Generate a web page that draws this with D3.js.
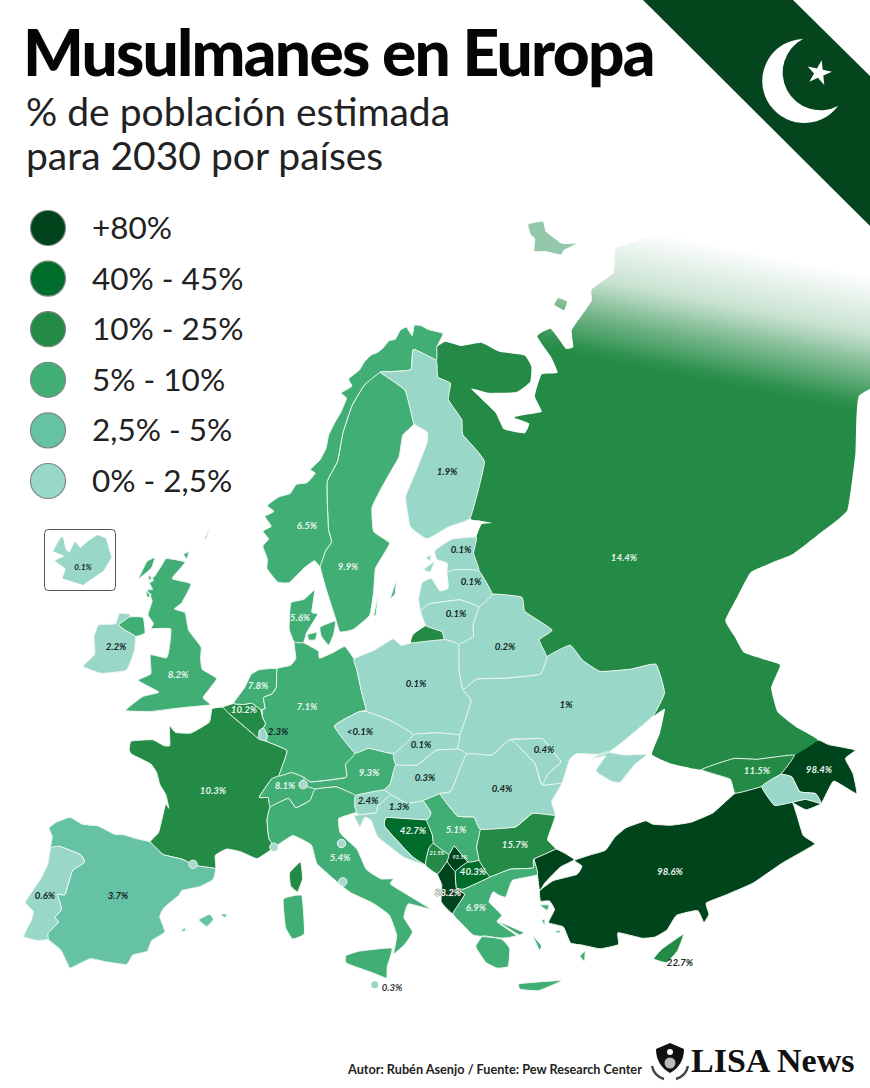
<!DOCTYPE html>
<html>
<head>
<meta charset="utf-8">
<script src="https://cdn.jsdelivr.net/npm/d3@7"></script>
<style>
  html, body { margin: 0; padding: 0; background: #fff; overflow: hidden; }
  svg { display: block; font-family: Lato, sans-serif; }
</style>
</head>
<body>
<svg id="map" width="870" height="1088"></svg>
<script>
// share of muslim population
var countries = ["Turkey","Azerbaijan","Albania","Kosovo","Bosnia","N. Macedonia","Cyprus","Montenegro","Bulgaria","Russia","Georgia","France","Belgium","Sweden","UK","Netherlands","Austria","Switzerland","Germany","Greece","Norway","Denmark","Italy","Serbia","Spain","Slovenia","Luxembourg","Ireland","Finland","Croatia","Portugal","Ukraine","Hungary","Moldova","Romania","Belarus","Estonia","Latvia","Lithuania","Poland","Slovakia","Czechia","Armenia","Iceland"];
var shares = [98.6,98.4,88.2,93.5,42.7,40.3,22.7,21.5,15.7,14.4,11.5,10.3,10.2,9.9,8.2,7.8,9.3,8.1,7.1,6.9,6.5,5.6,5.4,5.1,3.7,2.4,2.3,2.2,1.9,1.3,0.6,1,0.3,0.4,0.4,0.2,0.1,0.1,0.1,0.1,0.1,0.05,0.1,0.1];
var shareLabels = ["98.6%","98.4%","88.2%","93.5%","42.7%","40.3%","22.7%","21.5%","15.7%","14.4%","11.5%","10.3%","10.2%","9.9%","8.2%","7.8%","9.3%","8.1%","7.1%","6.9%","6.5%","5.6%","5.4%","5.1%","3.7%","2.4%","2.3%","2.2%","1.9%","1.3%","0.6%","1%","0.3%","0.4%","0.4%","0.2%","0.1%","0.1%","0.1%","0.1%","0.1%","<0.1%","",""];

var legendLabels = ["+80%","40% - 45%","10% - 25%","5% - 10%","2,5% - 5%","0% - 2,5%"];
var legendColors = ["#00441b","#006d2c","#238b45","#41ae76","#66c2a4","#99d8c9"];
var classBreaks = [2.5,5,10,30,60];

// microstates drawn as dots: Andorra, Monaco, Liechtenstein, San Marino, Vatican
var dotPlaces = [[1.55,42.5],[7.4,43.75],[9.55,47.15],[12.45,43.95],[12.45,41.9]];

// outlines in lon/lat
var PORTUGAL = [[[-8.8,41.9],[-8.2,42.1],[-6.6,41.95],[-6.2,41.6],[-6.9,41.0],[-7.0,39.7],[-7.5,39.6],[-7.0,38.9],[-7.3,38.4],[-7.0,38.2],[-7.5,37.5],[-7.4,37.2],[-8.0,37.0],[-9.0,37.0],[-8.8,37.9],[-8.8,38.4],[-9.5,38.75],[-9.3,39.3],[-8.9,40.2],[-8.7,41.0]]];
var SPAIN = [[[-8.8,41.9],[-8.9,42.5],[-9.3,42.9],[-8.9,43.3],[-8.0,43.75],[-7.0,43.55],[-5.8,43.65],[-4.5,43.4],[-3.8,43.48],[-2.9,43.4],[-1.8,43.35],[-0.7,42.8],[0.7,42.7],[1.7,42.45],[3.2,42.4],[3.1,41.8],[2.2,41.35],[1.0,41.05],[0.8,40.75],[-0.1,40.0],[-0.3,39.5],[0.2,38.75],[-0.6,38.2],[-0.8,37.6],[-1.7,37.3],[-2.0,36.75],[-3.4,36.7],[-4.4,36.7],[-5.3,36.15],[-5.6,36.0],[-6.4,36.8],[-7.4,37.2],[-7.5,37.5],[-7.0,38.2],[-7.3,38.4],[-7.0,38.9],[-7.5,39.6],[-7.0,39.7],[-6.9,41.0],[-6.2,41.6],[-6.6,41.95],[-8.2,42.1]],[[2.4,39.6],[3.1,39.95],[3.4,39.7],[3.0,39.3]],[[3.85,40.0],[4.3,40.05],[4.2,39.85]],[[1.25,38.9],[1.5,39.1],[1.6,38.95]]];
var FRANCE = [[[-1.8,43.35],[-1.3,43.9],[-1.2,44.6],[-1.1,45.5],[-0.8,45.3],[-1.2,46.0],[-1.8,46.5],[-2.2,47.1],[-2.8,47.5],[-4.4,47.8],[-4.7,48.0],[-4.7,48.5],[-3.0,48.8],[-2.0,48.6],[-1.5,48.65],[-1.8,49.7],[-1.2,49.4],[0.1,49.5],[1.5,50.2],[1.6,50.95],[2.55,51.1],[3.2,50.75],[4.2,50.3],[4.85,50.0],[5.8,49.55],[6.4,49.45],[8.2,48.97],[7.6,47.6],[7.0,47.4],[6.1,46.4],[6.8,46.4],[7.0,45.9],[6.8,45.2],[7.0,44.2],[7.5,43.8],[6.2,43.1],[5.0,43.4],[3.9,43.5],[3.1,43.1],[3.2,42.4],[1.7,42.45],[0.7,42.7],[-0.7,42.8]],[[9.4,43.0],[9.55,42.1],[9.2,41.4],[8.7,41.7],[8.6,42.4]]];
var BELGIUM = [[[2.55,51.1],[3.4,51.35],[4.3,51.35],[5.0,51.45],[5.8,51.15],[6.0,50.75],[6.3,50.4],[6.15,50.15],[5.8,50.0],[5.8,49.55],[4.85,50.0],[4.2,50.3],[3.2,50.75]]];
var NETHERLANDS = [[[3.4,51.35],[3.9,51.9],[4.3,52.3],[4.75,53.0],[5.5,53.3],[7.1,53.4],[7.1,52.4],[6.7,52.0],[6.0,51.8],[6.2,51.2],[5.8,51.15],[5.0,51.45],[4.3,51.35]]];
var LUXEMBOURG = [[[5.8,50.0],[6.15,50.15],[6.5,49.75],[6.4,49.45],[5.8,49.55]]];
var GERMANY = [[[7.1,53.4],[8.3,53.6],[8.8,54.0],[8.6,54.9],[9.5,54.85],[10.9,54.4],[11.0,54.0],[12.3,54.3],[13.4,54.6],[14.2,53.9],[14.4,53.3],[14.7,52.1],[15.0,51.1],[14.3,51.0],[12.2,50.3],[13.8,48.8],[13.0,48.2],[13.0,47.5],[10.2,47.3],[9.6,47.55],[8.6,47.8],[7.6,47.6],[8.2,48.97],[6.4,49.45],[6.5,49.75],[6.15,50.15],[6.3,50.4],[6.0,50.75],[5.95,51.15],[6.2,51.2],[6.0,51.8],[6.7,52.0],[7.1,52.4]]];
var DENMARK = [[[8.6,54.9],[8.1,55.6],[8.2,57.0],[9.5,57.2],[10.6,57.7],[10.3,56.5],[10.9,56.4],[9.8,55.4],[9.5,54.85]],[[11.1,55.7],[12.6,56.0],[12.4,55.3],[11.9,54.7],[11.2,55.2]],[[9.9,55.3],[10.8,55.4],[10.6,55.0],[10.0,55.0]]];
var NORWAY = [[[11.2,59.0],[10.6,59.3],[9.5,58.9],[8.0,58.1],[6.8,58.1],[5.6,58.8],[5.6,59.3],[5.0,60.0],[5.6,60.4],[4.9,60.8],[5.8,61.1],[5.0,61.6],[6.0,61.9],[5.2,62.2],[6.5,62.7],[7.8,62.9],[8.5,63.4],[9.8,63.5],[10.8,64.0],[10.2,64.2],[11.4,64.7],[12.2,65.3],[12.6,66.0],[13.4,66.6],[14.4,67.2],[15.3,67.9],[14.6,68.2],[16.2,68.5],[15.8,68.9],[17.5,69.3],[18.4,69.7],[19.5,70.0],[20.6,70.1],[21.6,70.3],[22.6,70.6],[23.6,70.6],[24.6,71.0],[25.7,71.1],[26.3,70.6],[27.0,71.1],[28.0,71.0],[29.0,70.7],[31.0,70.3],[30.0,69.9],[29.5,69.7],[28.9,69.05],[26.0,69.9],[25.0,68.9],[22.0,69.0],[20.5,69.05],[18.0,68.5],[16.0,67.5],[14.5,66.1],[13.6,64.6],[12.2,63.5],[12.2,61.0],[12.5,60.3],[11.8,59.8]]];
var SWEDEN = [[[11.2,59.0],[11.8,59.8],[12.5,60.3],[12.2,61.0],[12.2,63.5],[13.6,64.6],[14.5,66.1],[16.0,67.5],[18.0,68.5],[20.5,69.05],[23.6,67.9],[23.9,66.1],[22.2,65.6],[21.3,64.5],[19.0,63.2],[17.3,62.0],[17.2,60.7],[18.8,60.0],[18.0,59.4],[17.0,58.7],[16.6,57.5],[16.0,56.2],[14.3,55.5],[13.0,55.4],[12.6,56.2],[11.8,57.7]],[[18.2,57.0],[19.0,57.9],[18.7,57.2]],[[16.4,56.2],[17.0,57.2],[16.6,56.2]]];
var FINLAND = [[[20.5,69.05],[22.0,69.0],[25.0,68.9],[26.0,69.9],[28.9,69.05],[28.5,68.2],[30.0,67.7],[29.1,66.9],[30.1,65.7],[29.7,64.9],[31.3,63.2],[28.0,60.5],[25.5,60.3],[22.9,59.9],[21.3,60.7],[21.3,62.3],[22.5,63.2],[25.0,64.9],[25.4,65.5],[23.9,66.1],[23.6,67.9]]];
var ESTONIA = [[[23.5,59.2],[25.5,59.6],[28.1,59.4],[27.4,58.6],[27.5,57.6],[25.3,57.95],[24.3,57.9],[24.5,58.4],[23.5,58.7]],[[22.0,58.3],[23.2,58.6],[22.6,58.1]],[[22.4,58.9],[23.0,59.0],[22.8,58.7]]];
var LATVIA = [[[21.0,56.8],[21.6,57.6],[22.6,57.75],[23.2,57.0],[24.1,57.05],[24.3,57.9],[25.3,57.95],[27.5,57.6],[28.2,56.2],[26.6,55.7],[25.0,56.3],[22.0,56.4],[21.0,56.1]]];
var LITHUANIA = [[[21.0,56.1],[22.0,56.4],[25.0,56.3],[26.6,55.7],[25.7,54.8],[25.5,54.2],[24.0,53.95],[22.8,54.35],[22.7,54.8],[21.3,55.25]]];
var POLAND = [[[14.2,53.9],[16.2,54.3],[18.0,54.8],[18.7,54.4],[19.7,54.45],[22.8,54.35],[24.0,53.95],[23.6,52.6],[23.6,51.5],[24.1,50.8],[22.6,49.1],[21.0,49.4],[19.5,49.5],[18.8,49.5],[17.0,50.4],[15.0,51.0],[15.0,51.1],[14.7,52.1],[14.4,53.3]]];
var BELARUS = [[[24.0,53.95],[25.5,54.2],[25.7,54.8],[26.6,55.7],[28.2,56.2],[30.9,55.6],[30.8,54.8],[32.7,53.4],[31.3,53.1],[31.5,52.1],[30.5,51.3],[27.5,51.6],[25.0,51.9],[23.6,51.5],[23.6,52.6]]];
var UKRAINE = [[[24.1,50.8],[23.6,51.5],[25.0,51.9],[27.5,51.6],[30.5,51.3],[31.5,52.1],[33.8,52.3],[34.4,51.3],[35.5,50.4],[38.0,49.9],[40.1,49.6],[39.8,48.0],[38.2,47.1],[35.2,46.4],[33.6,46.1],[31.5,46.6],[30.8,46.4],[29.7,45.3],[28.2,45.5],[28.9,46.0],[30.1,46.4],[29.9,46.8],[29.2,47.9],[28.0,48.1],[26.6,48.3],[24.9,47.7],[22.9,48.0],[22.2,48.4],[22.6,49.1]],[[32.5,46.1],[33.7,46.2],[35.0,45.7],[36.6,45.3],[35.4,45.0],[34.0,44.4],[33.4,44.6],[32.5,45.4],[33.6,46.0]]];
var MOLDOVA = [[[26.6,48.3],[28.0,48.1],[29.2,47.9],[29.9,46.8],[30.1,46.4],[28.9,46.0],[28.2,45.5],[28.1,46.7],[27.2,47.8]]];
var CZECHIA = [[[12.2,50.3],[14.3,51.0],[15.0,51.0],[17.0,50.4],[18.8,49.5],[17.0,48.6],[15.0,49.0],[13.8,48.8]]];
var SLOVAKIA = [[[17.0,48.6],[18.8,49.5],[19.5,49.5],[21.0,49.4],[22.6,49.1],[22.2,48.4],[20.5,48.5],[18.8,47.85],[17.1,48.0]]];
var AUSTRIA = [[[9.6,47.55],[10.2,47.3],[13.0,47.5],[13.0,48.2],[13.8,48.8],[15.0,49.0],[17.0,48.6],[17.1,48.0],[16.5,47.0],[16.0,46.7],[13.7,46.5],[12.2,47.0],[10.5,46.9],[9.6,47.1]]];
var SWITZERLAND = [[[7.6,47.6],[8.6,47.8],[9.6,47.55],[9.6,47.1],[10.5,46.9],[10.1,46.3],[9.0,45.9],[8.4,46.4],[7.0,45.9],[6.8,46.4],[6.1,46.4],[7.0,47.4]]];
var ITALY = [[[7.5,43.8],[7.0,44.2],[6.8,45.2],[7.0,45.9],[8.4,46.4],[9.0,45.9],[10.1,46.3],[10.5,46.9],[12.2,47.0],[13.7,46.5],[13.6,45.9],[13.7,45.6],[12.3,45.3],[12.4,44.5],[13.6,43.6],[14.2,42.5],[15.2,41.95],[16.1,41.9],[15.9,41.6],[18.5,40.1],[17.0,40.5],[16.6,39.8],[17.1,39.0],[16.5,38.4],[15.7,37.95],[16.0,38.9],[15.6,40.0],[14.5,40.7],[13.0,41.3],[12.2,41.8],[10.6,42.9],[10.2,43.9],[8.8,44.4]],[[12.5,38.0],[13.4,38.2],[15.6,38.25],[15.2,37.3],[15.1,36.7],[14.3,37.0],[12.5,37.6]],[[8.2,41.0],[9.5,41.2],[9.7,39.2],[8.9,38.9],[8.4,39.5]]];
var SLOVENIA = [[[13.7,45.6],[13.6,45.9],[13.7,46.5],[16.0,46.7],[16.5,46.4],[15.4,45.85],[15.2,45.5],[13.9,45.45]]];
var CROATIA = [[[13.9,45.45],[15.2,45.5],[15.4,45.85],[16.5,46.4],[17.7,45.85],[18.9,45.9],[19.4,45.2],[19.0,44.85],[16.0,45.2],[15.8,44.7],[17.6,43.0],[18.5,42.45],[17.0,43.0],[15.2,44.2],[14.8,45.1],[14.3,45.3],[13.9,44.8],[13.5,45.4]]];
var BOSNIA = [[[15.8,44.7],[16.0,45.2],[19.0,44.85],[19.3,44.0],[19.3,43.55],[18.9,43.3],[18.5,42.45],[17.6,43.0]]];
var HUNGARY = [[[16.0,46.7],[16.5,47.0],[17.1,48.0],[18.8,47.85],[20.5,48.5],[22.2,48.4],[22.9,48.0],[21.2,46.2],[20.3,46.15],[18.9,45.9],[17.7,45.85],[16.5,46.4]]];
var ROMANIA = [[[20.3,46.15],[21.2,46.2],[22.9,48.0],[24.9,47.7],[26.6,48.3],[27.2,47.8],[28.1,46.7],[28.2,45.5],[29.7,45.3],[28.6,44.5],[28.6,43.75],[27.0,44.15],[25.5,43.65],[22.9,43.9],[22.6,44.6],[21.4,44.8],[20.7,45.6]]];
var SERBIA = [[[18.9,45.9],[20.3,46.15],[20.7,45.6],[21.4,44.8],[22.6,44.6],[22.9,43.9],[22.4,43.0],[22.4,42.3],[21.6,42.3],[20.8,43.25],[20.3,42.85],[19.3,43.55],[19.3,44.0],[19.0,44.85],[19.4,45.2]]];
var KOSOVO = [[[20.3,42.85],[20.8,43.25],[21.6,42.3],[20.6,41.9],[20.1,42.5]]];
var MONTENEGRO = [[[18.5,42.45],[18.9,43.3],[19.3,43.55],[20.3,42.85],[20.1,42.5],[19.3,41.9]]];
var ALBANIA = [[[19.3,41.9],[20.1,42.5],[20.6,41.9],[20.5,41.0],[21.0,40.6],[20.0,39.7],[19.3,40.4],[19.5,41.3]]];
var MACEDONIA = [[[20.6,41.9],[21.6,42.3],[22.4,42.3],[23.0,41.3],[21.0,40.9],[20.5,41.0]]];
var BULGARIA = [[[22.4,43.0],[22.9,43.9],[25.5,43.65],[27.0,44.15],[28.6,43.75],[27.6,42.6],[28.0,42.0],[26.3,41.75],[26.1,41.3],[24.5,41.5],[23.0,41.3],[22.4,42.3]]];
var GREECE = [[[20.0,39.7],[21.0,40.6],[20.5,41.0],[21.0,40.9],[23.0,41.3],[24.5,41.5],[26.1,41.3],[26.3,41.75],[26.3,40.9],[24.5,40.9],[23.8,40.1],[23.3,40.3],[23.0,40.5],[22.6,40.0],[23.3,39.2],[22.9,38.9],[24.0,38.0],[23.1,38.0],[21.2,38.4],[20.7,38.9]],[[21.2,37.8],[21.8,38.3],[23.0,37.95],[23.4,37.4],[23.1,36.5],[22.4,36.5],[21.7,36.9]],[[23.6,35.5],[26.3,35.2],[24.7,34.95],[23.6,35.2]],[[23.0,38.9],[24.5,38.1],[24.2,38.0],[23.5,38.5]],[[26.0,39.3],[26.6,39.2],[26.4,38.95]],[[27.8,36.2],[28.2,36.4],[28.0,35.9]],[[25.9,38.5],[26.1,38.5],[26.0,38.2]],[[26.6,37.8],[27.0,37.75],[26.8,37.65]],[[25.1,37.8],[25.5,37.2],[25.3,37.0]]];
var TURKEY = [[[26.3,41.75],[28.0,42.0],[29.1,41.2],[28.0,41.0],[26.7,40.4],[26.2,40.05],[26.3,40.9]],[[26.2,40.05],[27.3,40.4],[29.0,40.4],[29.5,40.75],[29.1,41.15],[30.3,41.2],[31.4,41.2],[32.3,41.7],[33.3,42.0],[34.8,42.0],[35.2,41.7],[36.4,41.3],[37.8,41.05],[39.5,41.05],[41.5,41.5],[43.4,41.2],[43.6,40.0],[44.8,39.7],[44.4,37.9],[44.8,37.2],[42.4,37.1],[40.0,36.8],[38.0,36.8],[36.7,36.8],[36.6,36.2],[36.1,35.9],[36.0,36.6],[34.6,36.75],[33.7,36.2],[32.8,36.05],[32.0,36.2],[30.6,36.85],[30.4,36.25],[29.2,36.3],[28.2,36.7],[27.4,37.0],[27.2,37.9],[26.3,38.3],[26.9,38.9],[26.7,39.4],[26.1,39.5]]];
var GEORGIA = [[[41.5,41.5],[41.6,42.3],[40.0,43.4],[42.5,43.2],[44.0,42.6],[46.5,41.85],[45.0,41.3],[43.4,41.2]]];
var ARMENIA = [[[43.4,41.2],[45.0,41.3],[45.6,40.9],[45.6,40.0],[46.5,39.5],[46.5,38.9],[45.7,39.5],[44.8,39.7],[43.6,40.0]]];
var AZERBAIJAN = [[[46.5,41.85],[45.0,41.3],[45.6,40.9],[45.6,40.0],[46.5,39.5],[46.5,38.9],[48.0,39.6],[48.9,38.4],[49.4,39.4],[49.5,40.3],[50.4,40.4],[49.0,41.4],[48.5,41.9]],[[44.8,39.7],[45.7,39.5],[46.5,38.9],[45.4,39.0]]];
var CYPRUS = [[[32.3,35.0],[33.0,35.35],[34.6,35.7],[33.9,35.0],[33.0,34.6]]];
var UK = [[[-5.7,50.05],[-3.5,50.3],[-1.2,50.75],[1.4,51.15],[0.7,51.5],[1.7,52.6],[0.3,53.0],[0.0,53.6],[-0.1,54.2],[-1.5,55.0],[-2.1,55.9],[-3.2,56.0],[-2.6,56.4],[-2.0,57.5],[-4.0,57.6],[-3.0,58.6],[-5.0,58.6],[-5.3,58.2],[-5.8,57.5],[-6.3,57.2],[-5.7,56.8],[-6.2,56.7],[-5.5,56.2],[-5.6,55.4],[-4.9,55.0],[-5.0,54.7],[-3.2,54.9],[-3.0,53.8],[-3.1,53.3],[-4.6,53.3],[-4.2,52.3],[-5.2,51.8],[-3.2,51.4],[-4.5,51.0]],[[-7.3,55.05],[-6.0,55.2],[-5.5,54.4],[-6.3,54.1],[-7.4,54.3],[-8.1,54.5]],[[-6.9,58.2],[-6.2,58.5],[-6.3,57.9],[-7.3,57.2]],[[-3.3,59.0],[-2.8,59.2],[-2.9,58.8]],[[-1.4,60.0],[-1.0,60.6],[-1.2,60.1]],[[-6.4,57.5],[-5.8,57.3],[-6.2,57.1]],[[-6.3,56.6],[-5.7,56.5],[-6.0,56.3]]];
var IRELAND = [[[-6.3,54.1],[-6.1,53.3],[-6.4,52.2],[-8.5,51.7],[-10.2,51.8],[-9.5,52.6],[-10.0,53.5],[-9.9,54.2],[-8.4,54.5],[-8.3,55.1],[-7.3,55.2],[-7.3,55.05],[-8.1,54.5],[-7.4,54.3]]];
var ICELAND = [[[-24.3,65.5],[-23.0,66.3],[-22.5,66.4],[-22.0,65.6],[-21.3,65.4],[-20.3,66.1],[-19.3,65.7],[-18.0,66.1],[-16.2,66.5],[-14.6,66.3],[-13.6,65.1],[-15.0,64.3],[-18.8,63.4],[-22.6,63.8],[-22.0,64.4],[-24.0,64.9],[-22.2,65.2]]];
var RUSSIA = [[[28.1,59.4],[29.0,60.0],[30.2,59.9],[29.0,60.2],[28.0,60.5],[31.3,63.2],[29.7,64.9],[30.1,65.7],[29.1,66.9],[30.0,67.7],[28.5,68.2],[28.9,69.05],[29.5,69.7],[31.0,69.85],[33.0,69.4],[36.0,69.2],[38.0,68.4],[41.0,67.7],[41.2,67.0],[40.2,66.3],[38.0,66.1],[34.5,66.6],[32.5,67.1],[34.5,65.5],[34.8,64.5],[37.0,63.9],[38.0,64.3],[36.5,64.9],[38.0,64.8],[40.0,64.6],[40.0,65.5],[42.0,66.4],[44.0,66.1],[44.2,67.0],[43.8,68.3],[46.0,68.3],[46.5,67.0],[47.5,66.9],[48.5,67.7],[53.0,68.4],[54.0,68.9],[58.0,68.9],[60.5,69.8],[64.0,69.3],[67.0,68.8],[68.0,71.0],[72.0,72.0],[80.0,72.0],[92.0,60.0],[75.0,54.0],[69.0,55.0],[65.0,53.0],[61.0,51.0],[58.0,51.0],[55.0,51.0],[53.0,51.3],[51.0,51.5],[49.0,50.8],[47.0,50.0],[47.0,49.0],[47.0,48.0],[48.0,47.2],[49.0,46.4],[47.5,45.6],[47.0,44.3],[47.7,43.0],[48.5,41.9],[46.5,41.85],[44.0,42.6],[42.5,43.2],[40.0,43.4],[38.0,44.4],[37.0,45.2],[38.2,46.1],[39.3,47.2],[38.2,47.1],[39.8,48.0],[40.1,49.6],[38.0,49.9],[35.5,50.4],[34.4,51.3],[33.8,52.3],[31.5,52.1],[31.3,53.1],[32.7,53.4],[30.8,54.8],[30.9,55.6],[28.2,56.2],[27.5,57.6],[27.4,58.6]],[[19.7,54.45],[22.8,54.35],[22.7,54.8],[21.3,55.25],[20.0,54.9]],[[48.2,69.3],[49.2,69.5],[50.0,69.1],[49.0,68.8]]];
var NOVAYA = [[51.5,73.5],[53.9,73.2],[53.3,72.7],[54.4,71.7],[56.2,71.3],[54.0,71.4],[53.2,71.3],[51.4,71.9],[49.9,72.2],[51.1,72.7],[50.9,73.0]];

var shapes = [TURKEY,AZERBAIJAN,ALBANIA,KOSOVO,BOSNIA,MACEDONIA,CYPRUS,MONTENEGRO,BULGARIA,RUSSIA,GEORGIA,FRANCE,BELGIUM,SWEDEN,UK,NETHERLANDS,AUSTRIA,SWITZERLAND,GERMANY,GREECE,NORWAY,DENMARK,ITALY,SERBIA,SPAIN,SLOVENIA,LUXEMBOURG,IRELAND,FINLAND,CROATIA,PORTUGAL,UKRAINE,HUNGARY,MOLDOVA,ROMANIA,BELARUS,ESTONIA,LATVIA,LITHUANIA,POLAND,SLOVAKIA,CZECHIA,ARMENIA,ICELAND];

// where each label sits on the page, same order as countries
var labelSpots = [[670,873],[819,771],[448,894],[460,858],[413,832],[473,873],[680,964],[437,854],[515,846],[624,559],[757,772],[213,792],[244,711],[348,568],[178,676],[258,687],[369,774],[285,787],[307,708],[476,909],[307,527],[300,619],[340,859],[456,831],[118,897],[368,802],[278,733],[116,648],[447,473],[399,808],[45,897],[566,706],[425,779],[544,751],[502,790],[505,648],[461,551],[471,583],[456,615],[416,685],[421,746],[360,733]];
var smallLabel = {"Montenegro":5.5,"Kosovo":5.5};
var darkOverride = {"Cyprus":1};

var svg = d3.select("#map");
var colorOf = d3.scaleThreshold().domain(classBreaks).range(legendColors.slice().reverse());

var projection = d3.geoConicConformal()
    .parallels([45,62])
    .rotate([-10,0])
    .center([0,53])
    .scale(1043)
    .translate([297,670]);

// the picture is a bit stretched compared with the plain projection
var pageX = d3.scaleLinear().domain([0,870]).range([7,7 + 870 * 1.016]);
var pageY = d3.scaleLinear().domain([0,1088]).range([-8,-8 + 1088 * 1.022]);
function place(p) {
    var q = projection(p);
    return [pageX(q[0]), pageY(q[1])];
}

var ringPath = d3.line()
    .x(function(p) { return place(p)[0]; })
    .y(function(p) { return place(p)[1]; })
    .curve(d3.curveCardinalClosed.tension(0.65));

function outlinePath(rings) {
    return rings.map(function(r) { return ringPath(r); }).join("");
}

// russia fades away to the north
var russiaColor = colorOf(14.4);
var fade = svg.append("defs").append("linearGradient").attr("id", "russiaFade")
    .attr("gradientUnits", "userSpaceOnUse")
    .attr("x1", 697).attr("y1", 240).attr("x2", 670).attr("y2", 374);
var fadeColor = d3.interpolateRgb("#ffffff", russiaColor);
[[0,0],[0.43,0.25],[0.67,0.6],[0.92,0.93],[1,1]].forEach(function(s) {
    fade.append("stop").attr("offset", s[0]).attr("stop-color", fadeColor(s[1]));
});

// title
svg.append("text").attr("x", 23).attr("y", 76)
    .attr("font-size", 64).attr("font-weight", 900).attr("letter-spacing", -1.75)
    .attr("fill", "#050505").text("Musulmanes en Europa");
svg.append("text").attr("x", 26).attr("y", 126)
    .attr("font-size", 39).attr("fill", "#222").text("% de población estimada");
svg.append("text").attr("x", 26).attr("y", 170)
    .attr("font-size", 39).attr("fill", "#222").text("para 2030 por países");

// legend
var legend = svg.selectAll(".legend").data(legendLabels).enter().append("g")
    .attr("class", "legend")
    .attr("transform", function(d, i) { return "translate(48," + (228 + i * 50.6) + ")"; });
legend.append("circle").attr("r", 17.5)
    .attr("fill", function(d, i) { return legendColors[i]; })
    .attr("stroke", "#7d8a82").attr("stroke-width", 1.2);
legend.append("text").attr("x", 44).attr("y", 11)
    .attr("font-size", 31.5).attr("fill", "#222")
    .text(function(d) { return d; });

// countries
svg.append("g").selectAll("path")
    .data(countries.filter(function(c) { return c != "Iceland"; }))
    .enter().append("path")
    .attr("d", function(c) { return outlinePath(shapes[countries.indexOf(c)]); })
    .attr("fill", function(c) { return c == "Russia" ? "url(#russiaFade)" : colorOf(shares[countries.indexOf(c)]); })
    .attr("stroke", function(c) { return c == "Russia" ? "none" : "#eef6f1"; })
    .attr("stroke-width", 1)
    .attr("stroke-linejoin", "round");
svg.append("path").attr("d", ringPath(NOVAYA)).attr("fill", "#93c8aa");

// banner in the corner
svg.append("path")
    .attr("d", "M643,0L870,226L870,76L793,0Z")
    .attr("fill", "#05451e");
svg.append("path")
    .attr("d", "M803,39A42,42 0 1 0 838,106A37,37 0 1 1 803,39Z")
    .attr("fill", "#fff");
svg.append("path")
    .attr("d", d3.symbol().type(d3.symbolStar).size(190)())
    .attr("transform", "translate(819,73) rotate(12)")
    .attr("fill", "#fff");

// microstates
svg.append("g").selectAll("circle")
    .data(dotPlaces)
    .enter().append("circle")
    .attr("cx", function(d) { return place(d)[0]; })
    .attr("cy", function(d) { return place(d)[1]; })
    .attr("r", 4.2)
    .attr("fill", "#a9d8cd").attr("stroke", "#eef6f1").attr("stroke-width", 1);

// labels
svg.append("g").selectAll("text")
    .data(labelSpots)
    .enter().append("text")
    .attr("x", function(d) { return d[0]; })
    .attr("y", function(d) { return d[1]; })
    .attr("text-anchor", "middle").attr("dominant-baseline", "middle")
    .attr("font-size", function(d, i) { return smallLabel[countries[i]] || 9.6; })
    .attr("font-style", "italic").attr("font-weight", 700)
    .attr("fill", function(d, i) { return shares[i] < 5 || darkOverride[countries[i]] ? "#12261d" : "#eaf5ee"; })
    .attr("stroke", function(d, i) { return countries[i] == "Albania" ? "#555" : "none"; })
    .attr("stroke-width", 0.7)
    .attr("paint-order", "stroke")
    .text(function(d, i) { return shareLabels[i]; });

// malta
var malta = place([14.3,36.4]);
svg.append("circle").attr("cx", malta[0]).attr("cy", malta[1]).attr("r", 3.6).attr("fill", "#99d8c9");
svg.append("text").attr("x", 392).attr("y", 989)
    .attr("text-anchor", "middle").attr("dominant-baseline", "middle")
    .attr("font-size", 9.6).attr("font-style", "italic").attr("font-weight", 700)
    .attr("fill", "#333").text("0.3%");

// iceland inset
svg.append("rect").attr("x", 44.5).attr("y", 529.5).attr("width", 71).attr("height", 61).attr("rx", 4)
    .attr("fill", "#fff").attr("stroke", "#555").attr("stroke-width", 1);
var insetX = d3.scaleLinear().domain([-24.5,-13.5]).range([52,112]);
var insetY = d3.scaleLinear().domain([66.5,63.4]).range([535,585]);
svg.append("path")
    .attr("d", d3.line().x(function(p) { return insetX(p[0]); }).y(function(p) { return insetY(p[1]); }).curve(d3.curveLinearClosed)(ICELAND[0]))
    .attr("fill", "#99d8c9");
svg.append("text").attr("x", 83).attr("y", 568)
    .attr("text-anchor", "middle").attr("dominant-baseline", "middle")
    .attr("font-size", 8).attr("font-weight", 700).attr("font-style", "italic")
    .attr("fill", "#12261d").text("0.1%");

// footer
svg.append("text").attr("x", 348).attr("y", 1074)
    .attr("font-size", 12.7).attr("font-weight", 700).attr("fill", "#222")
    .text("Autor: Rubén Asenjo / Fuente: Pew Research Center");
svg.append("path")
    .attr("d", "M656,1049L670,1043L684,1049C684,1060 679,1068 670,1073C661,1068 656,1060 656,1049Z")
    .attr("fill", "#111");
svg.append("circle").attr("cx", 670).attr("cy", 1063).attr("r", 5.5).attr("fill", "#bbb");
svg.append("circle").attr("cx", 670).attr("cy", 1052).attr("r", 3).attr("fill", "#fff");
svg.append("path").attr("d", "M652,1066Q654,1076 664,1079M688,1066Q686,1076 676,1079")
    .attr("fill", "none").attr("stroke", "#444").attr("stroke-width", 2.4);
svg.append("text").attr("x", 691).attr("y", 1072)
    .attr("font-family", "'Liberation Serif', serif").attr("font-size", 34).attr("font-weight", 700)
    .attr("fill", "#111").text("LISA News");
</script>
</body>
</html>
